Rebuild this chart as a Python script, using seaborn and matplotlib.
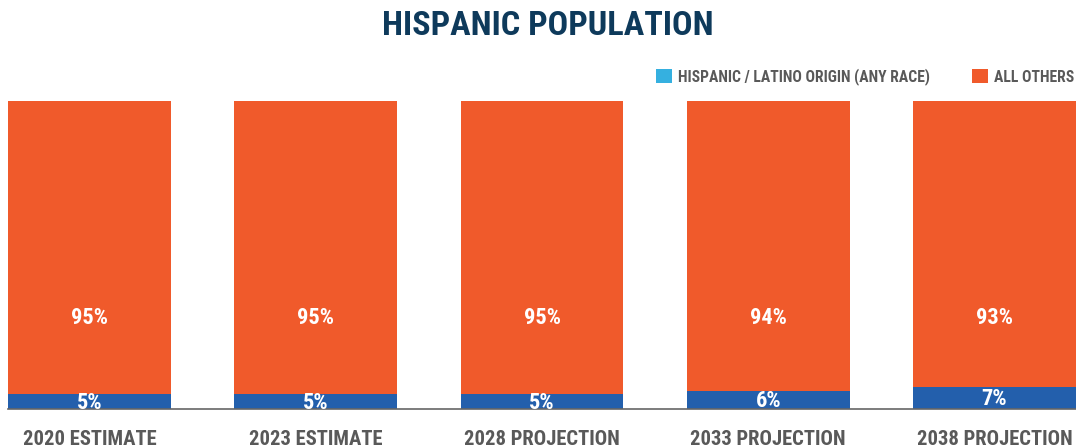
import matplotlib
matplotlib.use("Agg")
import matplotlib.pyplot as plt
from matplotlib.patches import Patch
import seaborn as sns
import pandas as pd
from matplotlib import font_manager

periods = ["2020 ESTIMATE", "2023 ESTIMATE", "2028 PROJECTION", "2033 PROJECTION", "2038 PROJECTION"]
hispanic = [5, 5, 5, 6, 7]
all_others = [95, 95, 95, 94, 93]
legend_labels = ["HISPANIC / LATINO ORIGIN (ANY RACE)", "ALL OTHERS"]

ORANGE = "#f05a2b"
BLUE = "#235fac"
LEGEND_BLUE = "#35b0e0"
NAVY = "#0e3a5b"
GRAY = "#595959"

sns.set_theme(style="white")
installed = {f.name for f in font_manager.fontManager.ttflist}
families = [n for n in ["Roboto Condensed", "Archivo Narrow", "Saira Condensed", "DejaVu Sans"]
            if n in installed]
plt.rcParams["font.family"] = families

df = pd.DataFrame({"period": periods, "hispanic": hispanic, "others": all_others})
df["total"] = df["hispanic"] + df["others"]

W, H = 1076, 447
fig = plt.figure(figsize=(W / 100, H / 100), dpi=100)
ax = fig.add_axes([8 / W, 38 / H, 1 - 5 / W, 308 / H])

sns.barplot(data=df, x="period", y="total", color=ORANGE, width=0.72,
            saturation=1, ax=ax, edgecolor="none")
sns.barplot(data=df, x="period", y="hispanic", color=BLUE, width=0.72,
            saturation=1, ax=ax, edgecolor="none")

pct_texts = []
for i, (h, o) in enumerate(zip(hispanic, all_others)):
    pct_texts.append(ax.text(i, 29.5, f"{o}%", ha="center", va="center", color="white",
                             fontsize=14, fontweight="bold"))
    pct_texts.append(ax.text(i, h / 2 - 0.4, f"{h}%", ha="center", va="center",
                             color="white", fontsize=14, fontweight="bold"))

ax.set_xlim(-0.36, 4.36 + 3 / 227)
ax.set_ylim(0, 100)
ax.set_xlabel("")
ax.set_ylabel("")
ax.set_yticks([])
ax.tick_params(axis="x", length=0, pad=15, labelsize=15, labelcolor=GRAY)
for lab in ax.get_xticklabels():
    lab.set_fontweight("bold")
for s in ["top", "right", "left"]:
    ax.spines[s].set_visible(False)
ax.spines["bottom"].set_color("#666666")
ax.spines["bottom"].set_linewidth(1.2)

title = fig.text(548 / W, 1 - 26 / H, "HISPANIC POPULATION", ha="center", va="center",
                 color=NAVY, fontsize=26, fontweight="bold")

handles = [Patch(facecolor=LEGEND_BLUE, edgecolor="none"),
           Patch(facecolor=ORANGE, edgecolor="none")]
leg = fig.legend(handles, legend_labels,
                 loc="center right", bbox_to_anchor=(1.0, 1 - 77 / H), ncol=2,
                 frameon=False, handlelength=1.0, handleheight=1.0,
                 handletextpad=0.4, columnspacing=2.6, borderaxespad=0.0,
                 borderpad=0.1, prop={"weight": "bold", "size": 11.5})
for t in leg.get_texts():
    t.set_color(GRAY)

# scale a few texts so their rendered widths fit the layout
fig.canvas.draw()
renderer = fig.canvas.get_renderer()


def fit(text, target_px):
    w = text.get_window_extent(renderer).width
    text.set_fontsize(text.get_fontsize() * target_px / w)


fit(title, 332)
first_tick = ax.get_xticklabels()[0]
w0 = first_tick.get_window_extent(renderer).width
new_size = first_tick.get_fontsize() * 134 / w0
ax.tick_params(axis="x", labelsize=new_size)
lw = leg.get_texts()[0].get_window_extent(renderer).width
for t in leg.get_texts():
    t.set_fontsize(t.get_fontsize() * 253 / lw)
pw = pct_texts[0].get_window_extent(renderer).width
for t in pct_texts:
    t.set_fontsize(t.get_fontsize() * 37 / pw)

fig.savefig("out.png", dpi=100)
